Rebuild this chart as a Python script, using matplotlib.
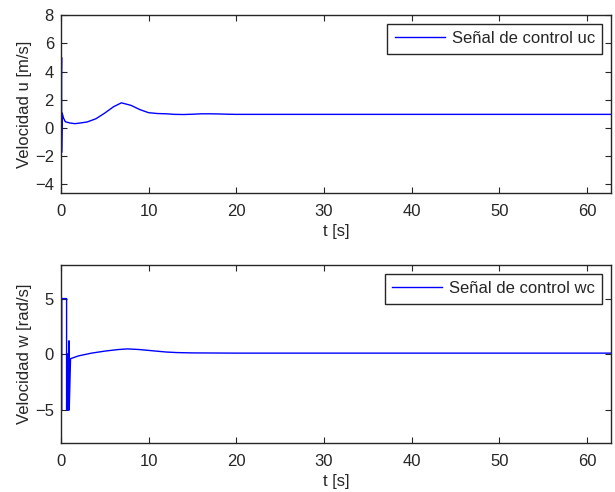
import numpy as np
import matplotlib.pyplot as plt

plt.rcParams['font.family'] = ['Liberation Sans', 'DejaVu Sans']
plt.rcParams['font.size'] = 12

# control signal u (linear velocity)
t_u = [0.0, 0.08, 0.08, 0.15, 0.3, 0.5, 1.0, 1.6, 2.0, 3.0, 4.0, 5.0, 6.0, 6.9,
       8.0, 9.0, 10.0, 11.0, 12.0, 13.0, 14.0, 15.0, 16.0, 17.0, 18.0, 19.0,
       20.0, 30.0, 40.0, 50.0, 62.7]
u_c = [1.0, 5.0, -1.75, 1.05, 0.7, 0.44, 0.35, 0.3, 0.33, 0.42, 0.65, 1.05, 1.5, 1.78,
       1.6, 1.3, 1.08, 1.02, 1.0, 0.96, 0.95, 0.97, 1.0, 1.0, 0.99, 0.97,
       0.96, 0.96, 0.96, 0.96, 0.96]

# control signal w (angular velocity), saturated at +-5 at the start
t_w = [0.0, 0.1, 0.1, 0.65, 0.65, 0.7, 0.7, 0.75, 0.75, 0.8, 0.8, 0.85, 0.85,
       0.9, 0.9, 0.95, 0.95, 1.1, 2.0, 3.5, 5.0, 6.5, 7.6, 9.0, 10.6, 12.0,
       13.2, 15.0, 20.0, 30.0, 40.0, 50.0, 62.7]
w_c = [-5.0, -5.0, 5.0, 5.0, -5.0, -5.0, 0.0, 0.0, -5.0, -5.0, 0.0, 0.0, -5.0,
       -5.0, 1.2, 1.2, -5.0, -0.4, -0.15, 0.1, 0.28, 0.42, 0.48, 0.42, 0.3, 0.2,
       0.15, 0.12, 0.1, 0.1, 0.1, 0.1, 0.1]

edge = '#262626'
fig = plt.figure(figsize=(6.15, 4.92), dpi=100)
ax1 = fig.add_axes([0.099, 0.607, 0.894, 0.362])
ax2 = fig.add_axes([0.099, 0.099, 0.894, 0.362])

ax1.plot(t_u, u_c, color='#0000ff', lw=1, label='Señal de control uc')
ax2.plot(t_w, w_c, color='#0000ff', lw=1, label='Señal de control wc')

ax1.set_ylim(-4.65, 8)
ax1.set_yticks([-4, -2, 0, 2, 4, 6, 8])
ax1.set_ylabel('Velocidad u [m/s]', labelpad=2)
ax2.set_ylim(-8, 8)
ax2.set_yticks([-5, 0, 5])
ax2.set_ylabel('Velocidad w [rad/s]', labelpad=2)

for ax in (ax1, ax2):
    ax.set_xlim(0, 62.7)
    ax.set_xticks(np.arange(0, 61, 10))
    ax.set_xlabel('t [s]', labelpad=3)
    ax.tick_params(direction='in', top=True, right=True, length=4,
                   color=edge, labelcolor=edge, pad=5)
    ax.tick_params(axis='x', pad=8)
    for s in ax.spines.values():
        s.set_color(edge)
        s.set_linewidth(1)
    ax.yaxis.label.set_color(edge)
    ax.xaxis.label.set_color(edge)
    leg = ax.legend(loc='upper right', fancybox=False, framealpha=1,
                    handlelength=3.0, borderaxespad=0.5, handletextpad=0.4,
                    borderpad=0.45)
    leg.get_frame().set_edgecolor(edge)
    leg.get_frame().set_linewidth(1)
    for txt in leg.get_texts():
        txt.set_color(edge)

plt.savefig('out.png', dpi=100)
